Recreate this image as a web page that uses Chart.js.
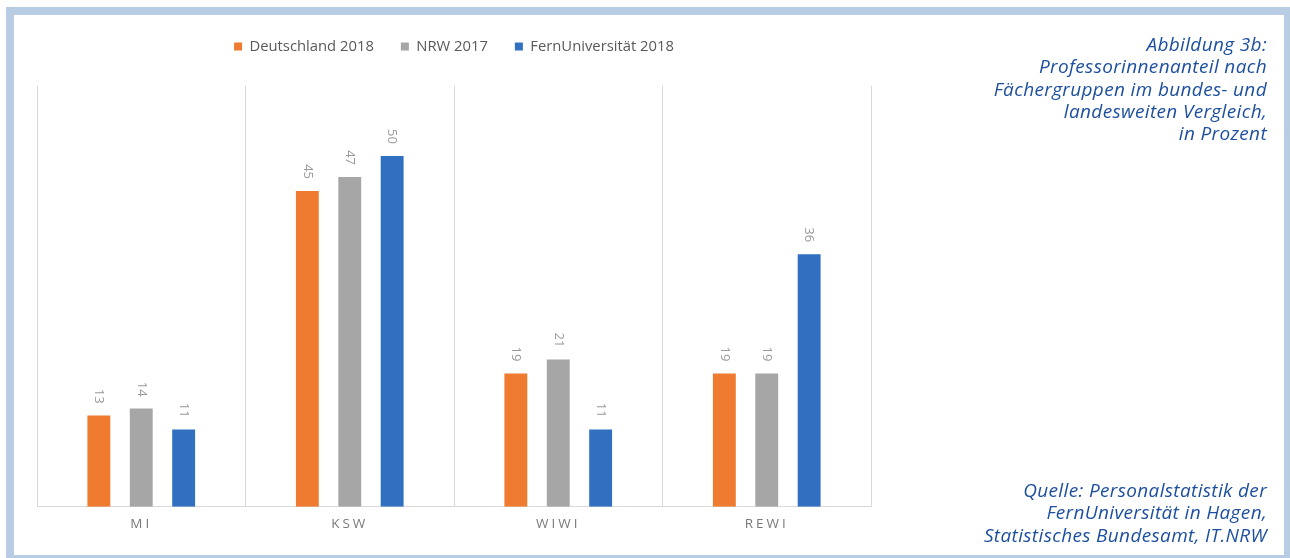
<!DOCTYPE html>
<html>
<head>
<meta charset="utf-8">
<script src="https://cdn.jsdelivr.net/npm/chart.js@4"></script>
<style>
  body { margin:0; background:#fff; width:1290px; height:558px; overflow:hidden; position:relative; }
  #frame { position:absolute; left:6px; top:7px; width:1270px; height:540px; border:8px solid #b8cde4; }
  #wrap { position:absolute; left:20px; top:12px; width:870px; height:529px; }
  .note { position:absolute; right:23px; width:380px; text-align:right; font-family:"Open Sans", sans-serif;
          font-style:italic; font-size:19px; line-height:22.3px; color:#1d4f9f; letter-spacing:0.35px; }
  #title { top:33px; }
  #source { top:479px; }
</style>
</head>
<body>
<div id="frame"></div>
<div id="wrap"><canvas id="myChart"></canvas></div>
<div class="note" id="title">Abbildung 3b:<br>Professorinnenanteil nach<br>Fächergruppen im bundes- und<br>landesweiten Vergleich,<br>in Prozent</div>
<div class="note" id="source">Quelle: Personalstatistik der<br>FernUniversität in Hagen,<br>Statistisches Bundesamt, IT.NRW</div>
<script>
var categories = ['MI', 'KSW', 'WIWI', 'REWI'];
var seriesNames = ['Deutschland 2018', 'NRW 2017', 'FernUniversität 2018'];
var deutschland = [13, 45, 19, 19];
var nrw = [14, 47, 21, 19];
var fernuni = [11, 50, 11, 36];
var colors = ['#ee7b30', '#a6a6a6', '#3170c0'];

// rotated value labels above the bars (read top to bottom)
var valueLabels = {
  id: 'valueLabels',
  afterDatasetsDraw: function(chart){
    var ctx = chart.ctx;
    chart.data.datasets.forEach(function(ds, i){
      var meta = chart.getDatasetMeta(i);
      meta.data.forEach(function(bar, j){
        ctx.save();
        ctx.translate(bar.x, bar.y - 12);
        ctx.rotate(Math.PI / 2);
        ctx.font = '13px "Open Sans", sans-serif';
        ctx.fillStyle = '#999999';
        ctx.textAlign = 'right';
        ctx.textBaseline = 'middle';
        ctx.fillText(ds.data[j], 0, 0);
        ctx.restore();
      });
    });
  }
};

// spread the category letters like the original
var spacedTicks = {
  id: 'spacedTicks',
  afterUpdate: function(chart){
    var sc = chart.scales.x;
    if (sc._spaced) return;
    var orig = sc.drawLabels;
    sc.drawLabels = function(area){
      chart.ctx.save();
      chart.ctx.letterSpacing = '3px';
      orig.call(this, area);
      chart.ctx.restore();
    };
    sc._spaced = true;
  }
};

// extra room between legend and plot
var legendGap = {
  id: 'legendGap',
  afterInit: function(chart){
    var fit = chart.legend.fit;
    chart.legend.fit = function(){
      fit.call(this);
      this.height += 22;
    };
  }
};

var ctx = document.getElementById('myChart').getContext('2d');
var chart = new Chart(ctx, {
  type: 'bar',
  data: {
    labels: categories,
    datasets: [
      { label: seriesNames[0], data: deutschland, backgroundColor: colors[0] },
      { label: seriesNames[1], data: nrw, backgroundColor: colors[1] },
      { label: seriesNames[2], data: fernuni, backgroundColor: colors[2] }
    ]
  },
  options: {
    responsive: true,
    maintainAspectRatio: false,
    animation: false,
    layout: { padding: { left: 17, right: 19, top: 0, bottom: 0 } },
    categoryPercentage: 0.61,
    barPercentage: 0.54,
    plugins: {
      legend: {
        position: 'top',
        labels: {
          boxWidth: 8, boxHeight: 8, padding: 27,
          color: '#595959',
          font: { family: 'Open Sans', size: 14.8 }
        }
      },
      tooltip: { enabled: false }
    },
    scales: {
      x: {
        grid: { display: true, offset: true, color: '#d9d9d9', drawTicks: false },
        border: { color: '#d9d9d9' },
        ticks: { color: '#7a7a7a', padding: 9, font: { family: 'Open Sans', size: 13.5 } }
      },
      y: {
        display: false,
        min: 0,
        max: 60
      }
    }
  },
  plugins: [valueLabels, spacedTicks, legendGap]
});
</script>
</body>
</html>
